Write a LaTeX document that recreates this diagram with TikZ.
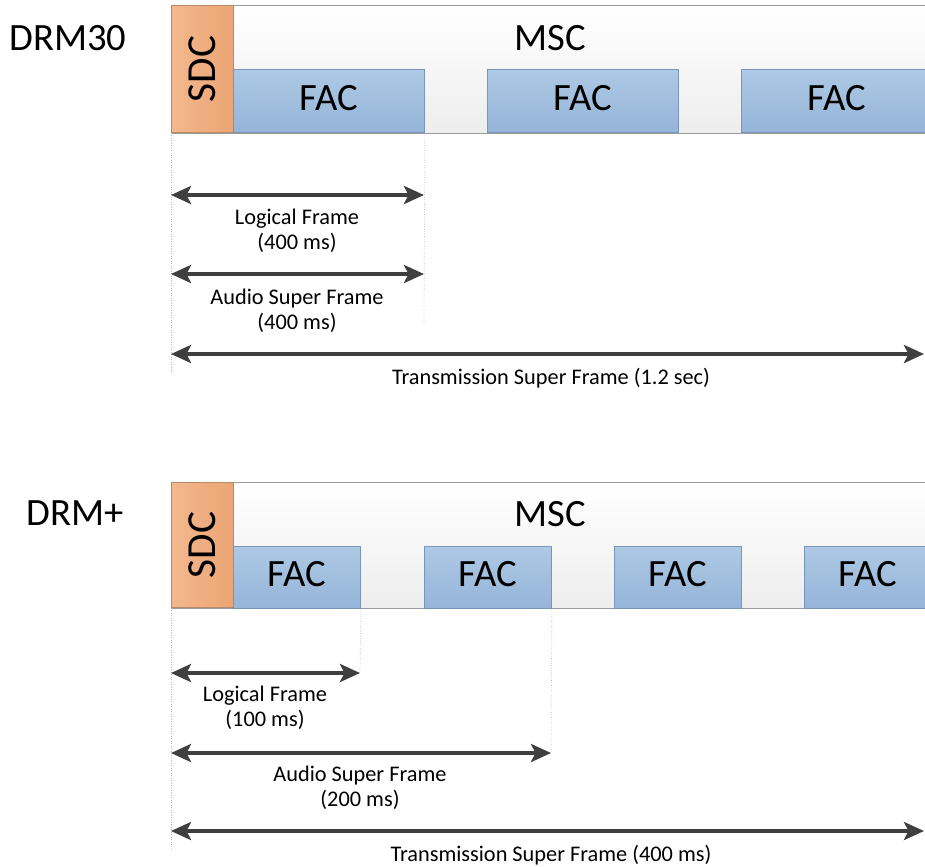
\documentclass[tikz,border=0pt]{standalone}
\usepackage{fontspec}
\setmainfont{Carlito}
\usetikzlibrary{arrows.meta}

\definecolor{sdcL}{HTML}{F3B78D}
\definecolor{sdcR}{HTML}{EBA574}
\definecolor{sdcD}{HTML}{B98A68}
\definecolor{facT}{HTML}{ADC9E4}
\definecolor{facB}{HTML}{95B4D8}
\definecolor{facD}{HTML}{7895BA}
\definecolor{mscD}{HTML}{9A9A9A}
\definecolor{freccia}{HTML}{3F3F3F}

\begin{document}
\begin{tikzpicture}[x=0.02cm, y=-0.02cm,
    blocco/.style 2 args={anchor=north west, inner sep=0pt,
        minimum width=#1*0.02cm, minimum height=#2*0.02cm},
    msc/.style={draw=mscD, line width=0.8pt, top color=white, bottom color=gray!14},
    sdc/.style={draw=sdcD, line width=0.5pt, left color=sdcL, right color=sdcR},
    fac/.style={draw=facD, line width=0.5pt, top color=facT, bottom color=facB},
    titolo/.style={font=\fontsize{22}{26}\selectfont},
    etichetta/.style={font=\fontsize{12.7}{14.5}\selectfont, align=center},
    quota/.style={{Stealth[length=0.4cm, width=0.36cm, inset=0.09cm]}-{Stealth[length=0.4cm, width=0.36cm, inset=0.09cm]},
        line width=2.2pt, draw=freccia},
    guida/.style={draw=gray!55, line width=0.4pt, densely dotted}]

    % Area della figura (i blocchi a destra escono dal bordo)
    \clip (0,0) rectangle (925,866);

    % ---------------- DRM30 ----------------
    \node[titolo] (drm30) at (68,38) {DRM30};

    % Canale MSC con SDC e blocchi FAC
    \node[msc, blocco={770}{128}] (msc1) at (171,5) {};
    \node[titolo] (msc1txt) at (550,38) {MSC};
    \node[sdc, blocco={62}{127}] (sdc1) at (171,5) {};
    \node[titolo, font=\fontsize{23.5}{26}\selectfont, rotate=90] (sdc1txt) at (sdc1.center) {SDC};
    \node[fac, blocco={191}{63}] (fac11) at (233,69) {};
    \node[fac, blocco={191}{63}] (fac12) at (487,69) {};
    \node[fac, blocco={191}{63}] (fac13) at (741,69) {};
    \node[titolo] at ([yshift=0.06cm]fac11.center) {FAC};
    \node[titolo] at ([yshift=0.06cm]fac12.center) {FAC};
    \node[titolo] at ([yshift=0.06cm]fac13.center) {FAC};

    % Linee di riferimento tratteggiate
    \coordinate (g10) at (171,373);
    \coordinate (g11) at (424,323);
    \draw[guida] (sdc1.south west) -- (g10);
    \draw[guida] (fac11.south east) -- (g11);

    % Quote
    \coordinate (lf1a) at (171,195);
    \coordinate (lf1b) at (424,195);
    \coordinate (as1a) at (171,274);
    \coordinate (as1b) at (424,274);
    \coordinate (ts1a) at (171,354);
    \coordinate (ts1b) at (924,354);
    \draw[quota] (lf1a) -- (lf1b);
    \draw[quota] (as1a) -- (as1b);
    \draw[quota] (ts1a) -- (ts1b);
    \node[etichetta] (lf1txt) at (297,231) {Logical Frame\\(400 ms)};
    \node[etichetta] (as1txt) at (297,311) {Audio Super Frame\\(400 ms)};
    \node[etichetta] (ts1txt) at (551,378) {Transmission Super Frame (1.2 sec)};

    % ---------------- DRM+ ----------------
    \node[titolo] (drmp) at (75,513) {DRM+};

    % Canale MSC con SDC e blocchi FAC
    \node[msc, blocco={770}{126}] (msc2) at (171,482) {};
    \node[titolo] (msc2txt) at (550,514) {MSC};
    \node[sdc, blocco={62}{125}] (sdc2) at (171,482) {};
    \node[titolo, font=\fontsize{23.5}{26}\selectfont, rotate=90] (sdc2txt) at (sdc2.center) {SDC};
    \node[fac, blocco={127}{62}] (fac21) at (233,546) {};
    \node[fac, blocco={127}{62}] (fac22) at (424,546) {};
    \node[fac, blocco={127}{62}] (fac23) at (614,546) {};
    \node[fac, blocco={127}{62}] (fac24) at (804,546) {};
    \node[titolo] at ([yshift=0.06cm]fac21.center) {FAC};
    \node[titolo] at ([yshift=0.06cm]fac22.center) {FAC};
    \node[titolo] at ([yshift=0.06cm]fac23.center) {FAC};
    \node[titolo] at ([yshift=0.06cm]fac24.center) {FAC};

    % Linee di riferimento tratteggiate
    \coordinate (g20) at (171,850);
    \coordinate (g21) at (360,673);
    \coordinate (g22) at (551,753);
    \draw[guida] (sdc2.south west) -- (g20);
    \draw[guida] (fac21.south east) -- (g21);
    \draw[guida] (fac22.south east) -- (g22);

    % Quote
    \coordinate (lf2a) at (171,673);
    \coordinate (lf2b) at (360,673);
    \coordinate (as2a) at (171,753);
    \coordinate (as2b) at (551,753);
    \coordinate (ts2a) at (171,831);
    \coordinate (ts2b) at (924,831);
    \draw[quota] (lf2a) -- (lf2b);
    \draw[quota] (as2a) -- (as2b);
    \draw[quota] (ts2a) -- (ts2b);
    \node[etichetta] (lf2txt) at (265,708) {Logical Frame\\(100 ms)};
    \node[etichetta] (as2txt) at (360,788) {Audio Super Frame\\(200 ms)};
    \node[etichetta] (ts2txt) at (551,855) {Transmission Super Frame (400 ms)};

\end{tikzpicture}
\end{document}
